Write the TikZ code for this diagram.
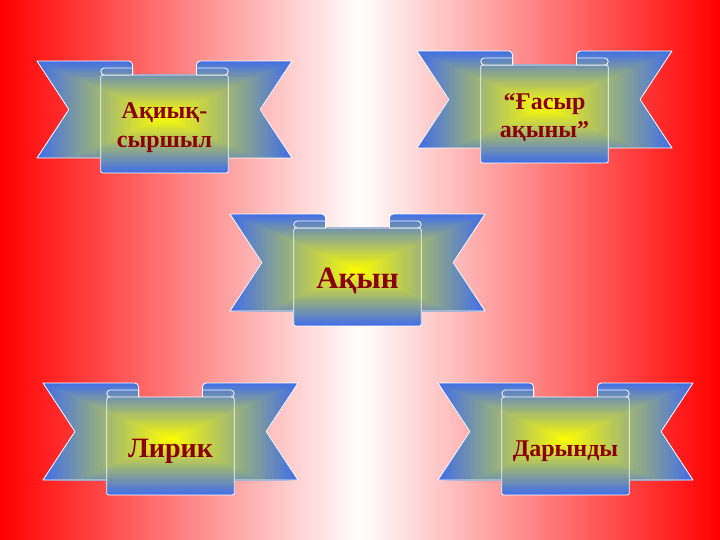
\documentclass[tikz,border=0pt]{standalone}
\usepackage{fontspec}
\setmainfont{Liberation Serif}
\definecolor{ribblue}{RGB}{66,110,230}
\definecolor{ribyellow}{RGB}{255,255,0}
\definecolor{txtred}{RGB}{139,0,0}
\tikzset{
  ribedge/.style={draw=white, line width=0.8pt, line join=round},
  ribtext/.style={text=txtred, font=\bfseries, inner sep=0pt, anchor=base},
  ltail/.style={insert path={(0,0) -- (91.6,0) arc[start angle=-90,end angle=0,radius=4] -- (95.6,97) -- (0,97) -- (31.9,48.5) -- cycle}},
  rtail/.style={insert path={(255,0) -- (163.4,0) arc[start angle=-90,end angle=-180,radius=4] -- (159.4,97) -- (255,97) -- (223.1,48.5) -- cycle}},
  panel/.style={insert path={[rounded corners=2] (63.75,14) rectangle (191.25,112)}},
  lroll/.style={insert path={(95.6,7) -- (67.25,7) arc[start angle=-90,end angle=-270,radius=3.5] -- (95.6,14) -- cycle}},
  rroll/.style={insert path={(159.4,7) -- (187.75,7) arc[start angle=-90,end angle=90,radius=3.5] -- (159.4,14) -- cycle}},
}
\newcommand\ribgrad{%
  \foreach \i in {50,49,...,1}{%
    \pgfmathtruncatemacro\p{\i*2}%
    \fill[ribblue!\p!ribyellow] ({127.5-127.5*\i/50},{56-56*\i/50}) rectangle ({127.5+127.5*\i/50},{56+56*\i/50});
  }}
\newcommand\ribpiece[1]{\begin{scope}\clip[#1];\ribgrad\end{scope}\path[ribedge,#1];}
\newcommand\ribbon[2]{%
  \begin{scope}[shift={(#1,#2)}]
    \ribpiece{ltail}\ribpiece{rtail}\ribpiece{panel}\ribpiece{lroll}\ribpiece{rroll}
  \end{scope}}
\begin{document}
\begin{tikzpicture}[x=1pt,y=-1pt]
  \useasboundingbox (0,0) rectangle (720,540);
  \shade[left color=red,right color=white] (0,0) rectangle (360,540);
  \shade[left color=white,right color=red] (360,0) rectangle (720,540);
  \ribbon{37}{61}
  \ribbon{417}{51}
  \ribbon{230}{214}
  \ribbon{43}{383}
  \ribbon{438}{383}
  \node[ribtext, font=\bfseries\fontsize{24}{29}\selectfont] (t1) at (164.5,119) {\begin{tabular}[t]{@{}c@{}}Ақиық-\\сыршыл\end{tabular}};
  \node[ribtext, font=\bfseries\fontsize{24}{28}\selectfont] (t2) at (544.5,110) {\begin{tabular}[t]{@{}c@{}}“Ғасыр\\ақыны”\end{tabular}};
  \node[ribtext, font=\bfseries\fontsize{31}{36}\selectfont] (t3) at (357.5,288) {Ақын};
  \node[ribtext, font=\bfseries\fontsize{28}{33}\selectfont] (t4) at (170.5,457.5) {Лирик};
  \node[ribtext, font=\bfseries\fontsize{24}{29}\selectfont] (t5) at (565.5,456.5) {Дарынды};
\end{tikzpicture}
\end{document}
